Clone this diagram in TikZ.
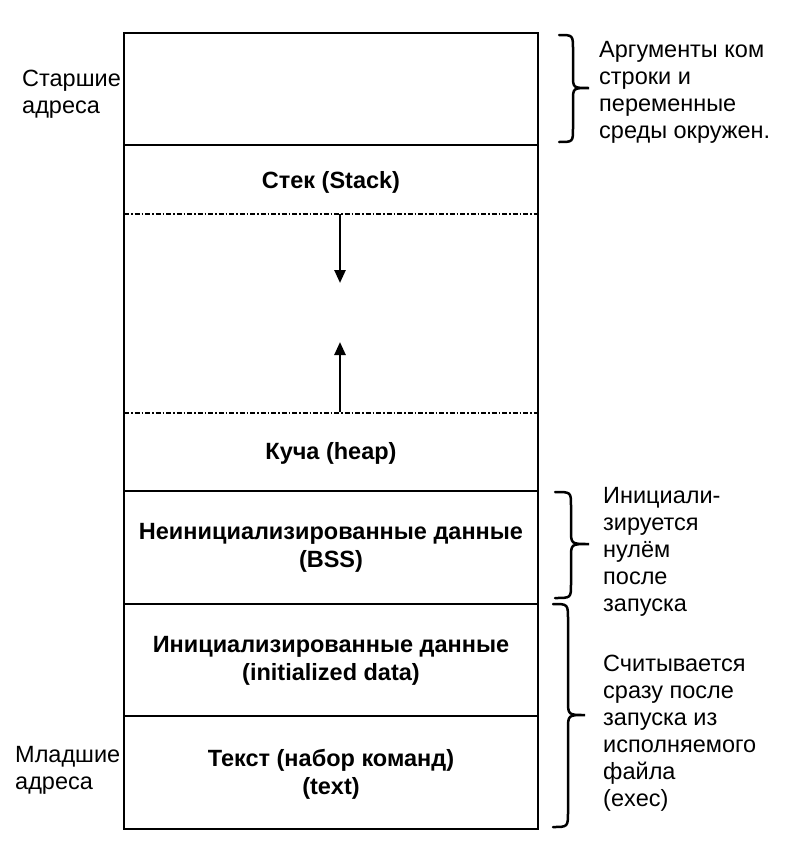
\documentclass[tikz,border=0pt]{standalone}
\usepackage{fontspec}
\setmainfont{Liberation Sans}
\usetikzlibrary{arrows.meta}
\begin{document}
\begin{tikzpicture}[x=1pt,y=-1pt,
  seg/.style={line width=2pt},
  dd/.style={line width=1.4pt,dash pattern=on 5pt off 2pt on 1.5pt off 2pt},
  lbl/.style={font=\fontsize{23.5}{27}\selectfont,align=left,anchor=base west,inner sep=0pt},
  blbl/.style={font=\fontsize{23.5}{28}\selectfont\bfseries,align=center,inner sep=0pt},
  brc/.style={line width=2.5pt,line cap=round},
  arr/.style={line width=2.5pt,-{Triangle[length=13pt,width=11pt]}}]
\useasboundingbox (0,0) rectangle (811,862);
% main frame
\draw[seg] (124,33) rectangle (538,829);
\coordinate (l1) at (124,145); \coordinate (r1) at (538,145);
\coordinate (l2) at (124,214); \coordinate (r2) at (538,214);
\coordinate (l3) at (124,413); \coordinate (r3) at (538,413);
\coordinate (l4) at (124,491); \coordinate (r4) at (538,491);
\coordinate (l5) at (124,604); \coordinate (r5) at (538,604);
\coordinate (l6) at (124,716); \coordinate (r6) at (538,716);
\draw[seg] (l1) -- (r1);
\draw[dd] (l2) -- (r2);
\draw[dd] (l3) -- (r3);
\draw[seg] (l4) -- (r4);
\draw[seg] (l5) -- (r5);
\draw[seg] (l6) -- (r6);
% arrows
\coordinate (a1) at (340,214); \coordinate (a2) at (340,283);
\coordinate (b1) at (340,412); \coordinate (b2) at (340,342);
\draw[arr] (a1) -- (a2);
\draw[arr] (b1) -- (b2);
% segment labels
\node[blbl] (stack) at (331,182) {Стек (Stack)};
\node[blbl] (heap) at (331,453) {Куча (heap)};
\node[blbl] (bss) at (331,548) {Неинициализированные данные\\(BSS)};
\node[blbl] (init) at (331,661) {Инициализированные данные\\(initialized data)};
\node[blbl] (text) at (331,774) {Текст (набор команд)\\(text)};
% left labels (anchored at last line's baseline)
\node[lbl] (hi) at (22,113) {Старшие\\адреса};
\node[lbl] (lo) at (15,789) {Младшие\\адреса};
% right labels
\node[lbl] (args) at (599,138) {Аргументы ком\\строки и\\переменные\\среды окружен.};
\node[lbl] (zero) at (603,611) {Инициали-\\зируется\\нулём\\после\\запуска};
\node[lbl] (read) at (603,806) {Считывается\\сразу после\\запуска из\\исполняемого\\файла\\(exec)};
% braces
\draw[brc] (559,35) .. controls (573,35) .. (573,50) -- (573,75) .. controls (573,88) .. (589,88) .. controls (573,88) .. (573,101) -- (573,128) .. controls (573,142) .. (559,142);
\draw[brc] (555,492) .. controls (571,492) .. (571,506) -- (571,530) .. controls (571,544) .. (589,544) .. controls (571,544) .. (571,558) -- (571,584) .. controls (571,598) .. (555,598);
\draw[brc] (553,604) .. controls (568,604) .. (568,620) -- (568,700) .. controls (568,715) .. (585,715) .. controls (568,715) .. (568,730) -- (568,811) .. controls (568,827) .. (553,827);
\end{tikzpicture}
\end{document}
